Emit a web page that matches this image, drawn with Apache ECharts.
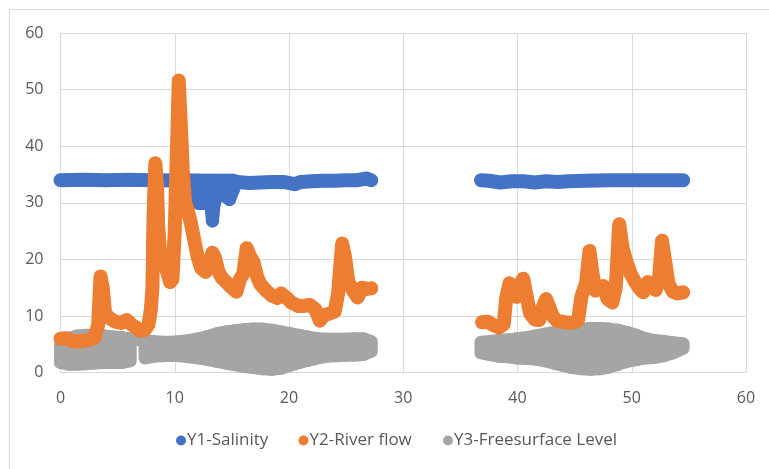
<!DOCTYPE html>
<html>
<head>
<meta charset="utf-8">
<script src="https://cdn.jsdelivr.net/npm/echarts@6/dist/echarts.min.js"></script>
<style>
  html, body { margin: 0; padding: 0; background: #fff; }
  #chart { width: 769px; height: 469px; }
</style>
</head>
<body>
<div id="chart"></div>
<script>
// Y1 - salinity, first record (days 0-27)
const salinityAX = [0, 2, 4, 6, 8, 9, 10, 10.6, 15.4, 16.5, 17.5, 18.5, 19.5, 20.5, 21.0, 22, 23, 24, 25, 26, 26.8, 27.2];
const salinityAY = [34.0, 34.1, 34.0, 34.1, 34.0, 34.0, 33.9, 34.0, 33.7, 33.5, 33.6, 33.7, 33.7, 33.3, 33.7, 33.8, 33.9, 33.9, 34.0, 34.0, 34.3, 34.0];
// salinity drop during the flood, days 10.6-15.4: (day, high, low)
const salinityDipX = [10.6, 11.1, 11.4, 11.7, 12.1, 12.5, 12.9, 13.15, 13.3, 13.45, 13.7, 14.0, 14.4, 14.8, 15.1, 15.4];
const salinityDipHigh = [34.0, 34.0, 34.0, 34.0, 34.0, 34.0, 34.0, 34.0, 34.0, 34.0, 34.0, 34.0, 34.0, 34.0, 34.0, 33.8];
const salinityDipLow = [34.0, 33.2, 31.8, 30.2, 29.9, 29.9, 30.3, 30.0, 26.8, 29.8, 31.3, 32.1, 31.2, 30.6, 32.2, 33.6];
// Y1 - salinity, second record (days 37-55)
const salinityBX = [36.8, 37.5, 38.5, 39.5, 40.5, 41.5, 42.5, 43.5, 44.5, 46, 48, 50, 52, 54.5];
const salinityBY = [34.0, 33.9, 33.6, 33.8, 33.8, 33.6, 33.8, 33.7, 33.8, 33.9, 34.0, 34.0, 34.0, 34.0];

// Y2 - river flow
const flowAX = [0.0, 0.5, 1.0, 1.5, 2.0, 2.5, 3.0, 3.3, 3.5, 3.7, 3.9, 4.3, 4.8, 5.3, 5.8, 6.2, 6.6, 7.0, 7.4, 7.7, 7.9, 8.05, 8.1, 8.15, 8.3, 8.45, 8.55, 8.7, 8.9, 9.1, 9.3, 9.6, 9.8, 10.0, 10.2, 10.35, 10.5, 10.7, 10.9, 11.1, 11.4, 11.7, 12.0, 12.3, 12.7, 13.0, 13.3, 13.5, 13.8, 14.1, 14.6, 15.0, 15.4, 15.7, 16.0, 16.3, 16.6, 16.9, 17.2, 17.5, 18.0, 18.5, 19.0, 19.3, 19.8, 20.2, 20.8, 21.3, 21.8, 22.3, 22.7, 23.1, 23.5, 24.0, 24.3, 24.65, 24.9, 25.2, 25.6, 26.0, 26.4, 26.8, 27.2];
const flowAY = [6.0, 6.1, 5.6, 5.5, 5.6, 5.8, 6.2, 8.5, 17.0, 15.0, 10.5, 9.6, 9.0, 8.8, 9.3, 8.5, 8.0, 7.4, 7.6, 8.5, 11.0, 15.0, 22.5, 28.0, 37.0, 33.0, 26.0, 21.5, 19.5, 20.5, 18.0, 16.0, 16.5, 25.0, 40.0, 51.6, 45.0, 36.0, 30.0, 29.0, 26.5, 23.5, 20.5, 18.5, 17.8, 19.0, 21.2, 20.5, 18.0, 16.8, 15.8, 15.0, 14.3, 16.5, 17.5, 22.0, 20.5, 19.5, 17.0, 15.6, 14.5, 13.6, 13.2, 14.0, 13.2, 12.4, 11.8, 11.8, 12.0, 11.2, 9.2, 10.2, 10.4, 10.8, 14.0, 22.8, 20.5, 16.0, 14.5, 13.3, 15.0, 14.8, 14.9];
const flowBX = [36.9, 37.4, 37.9, 38.4, 38.8, 39.0, 39.3, 39.6, 39.9, 40.2, 40.5, 40.8, 41.1, 41.5, 41.9, 42.2, 42.5, 42.8, 43.1, 43.5, 44.0, 44.5, 45.0, 45.3, 45.6, 46.0, 46.3, 46.6, 46.8, 47.2, 47.5, 47.9, 48.3, 48.6, 48.9, 49.2, 49.5, 49.9, 50.3, 50.7, 51.0, 51.4, 51.7, 52.1, 52.4, 52.65, 52.9, 53.2, 53.6, 54.0, 54.5];
const flowBY = [8.9, 9.0, 8.4, 8.0, 8.6, 13.0, 15.8, 15.0, 13.4, 15.5, 16.6, 13.5, 10.5, 9.4, 9.3, 11.5, 13.0, 11.5, 9.9, 9.1, 9.0, 8.8, 8.9, 9.3, 13.5, 15.8, 21.5, 17.0, 14.5, 15.2, 15.3, 13.0, 12.4, 15.0, 26.2, 22.0, 19.8, 17.5, 16.0, 14.8, 14.2, 16.0, 15.4, 14.6, 17.0, 23.3, 20.0, 15.8, 14.3, 14.0, 14.2];

// Y3 - free surface level: tidal range as (day, high water, low water)
const levelA1X = [0, 0.75, 1.5, 2.25, 3.0, 3.8, 4.6, 5.4, 6.1];
const levelA1High = [4.8, 6.1, 6.5, 6.6, 6.6, 6.5, 6.3, 6.2, 6.0];
const levelA1Low = [1.8, 1.5, 1.5, 1.6, 1.7, 1.8, 1.8, 1.8, 2.1];
// short stretch around day 6.7 where only high water was logged: [day0, level0, day1, level1]
const levelA1Bridge = [6.1, 6.0, 7.4, 5.7];
const levelA2X = [7.4, 8.1, 8.9, 9.7, 10.5, 11.3, 12.1, 12.9, 13.7, 14.5, 15.3, 16.1, 16.9, 17.7, 18.5, 19.3, 20.1, 20.9, 21.7, 22.5, 23.3, 24.1, 24.9, 25.7, 26.5, 27.2];
const levelA2High = [5.7, 5.5, 5.4, 5.4, 5.5, 5.7, 6.0, 6.4, 6.9, 7.2, 7.4, 7.6, 7.7, 7.7, 7.5, 7.2, 6.9, 6.6, 6.3, 6.0, 5.9, 5.9, 5.9, 6.0, 6.0, 5.5];
const levelA2Low = [2.6, 2.9, 3.0, 3.1, 3.0, 2.8, 2.6, 2.3, 2.0, 1.7, 1.4, 1.1, 0.9, 0.7, 0.6, 0.8, 1.3, 1.8, 2.2, 2.6, 2.9, 3.0, 3.1, 3.1, 3.2, 3.8];
const levelBX = [36.8, 37.6, 38.4, 39.2, 40.0, 40.8, 41.6, 42.4, 43.2, 44.0, 44.8, 45.6, 46.4, 47.2, 48.0, 48.8, 49.6, 50.4, 51.2, 52.0, 52.8, 53.6, 54.5];
const levelBHigh = [5.4, 5.5, 5.7, 5.8, 6.0, 6.2, 6.5, 6.8, 7.1, 7.4, 7.6, 7.7, 7.8, 7.8, 7.7, 7.5, 7.1, 6.6, 6.0, 5.7, 5.5, 5.3, 5.1];
const levelBLow = [3.5, 3.2, 2.9, 2.8, 2.6, 2.5, 2.4, 2.1, 1.7, 1.3, 0.9, 0.7, 0.6, 0.7, 1.0, 1.5, 2.0, 2.3, 2.6, 2.7, 3.0, 3.5, 4.3];

const seriesNames = ['Y1-Salinity', 'Y2-River flow', 'Y3-Freesurface Level'];
const colors = ['#4472C4', '#ED7D31', '#A5A5A5'];
const LINE_W = 14;
const BAND_W = 13;

function pairs(xs, ys) {
  return xs.map((x, i) => [x, ys[i]]);
}
// One band piece per pair of neighbouring samples: [x0, high0, low0, x1, high1, low1]
function bandPieces(xs, highs, lows) {
  const out = [];
  for (let i = 1; i < xs.length; i++) {
    out.push([xs[i - 1], highs[i - 1], lows[i - 1], xs[i], highs[i], lows[i]]);
  }
  return out;
}

function trace(name, color, data) {
  return {
    name: name,
    type: 'line',
    data: data,
    showSymbol: false,
    clip: false,
    silent: true,
    itemStyle: { color: color },
    lineStyle: { color: color, width: LINE_W, cap: 'round', join: 'round' }
  };
}

function band(name, color, pieces) {
  return {
    name: name,
    type: 'custom',
    data: pieces,
    silent: true,
    clip: false,
    itemStyle: { color: color },
    encode: { x: [0, 3], y: [1, 2, 4, 5] },
    renderItem: function (params, api) {
      const a = api.coord([api.value(0), api.value(1)]);
      const b = api.coord([api.value(3), api.value(4)]);
      const c = api.coord([api.value(3), api.value(5)]);
      const d = api.coord([api.value(0), api.value(2)]);
      return {
        type: 'polygon',
        shape: { points: [a, b, c, d] },
        style: { fill: color, stroke: color, lineWidth: BAND_W, lineJoin: 'round', lineCap: 'round' }
      };
    }
  };
}

const levelPieces = [].concat(
  bandPieces(levelA1X, levelA1High, levelA1Low),
  [[levelA1Bridge[0], levelA1Bridge[1], levelA1Bridge[1], levelA1Bridge[2], levelA1Bridge[3], levelA1Bridge[3]]],
  bandPieces(levelA2X, levelA2High, levelA2Low),
  bandPieces(levelBX, levelBHigh, levelBLow)
);

const FONT = '"Open Sans", "Noto Sans", sans-serif';
const legendLeft = [171, 293.5, 438];
const chart = echarts.init(document.getElementById('chart'), null, { renderer: 'canvas' });
chart.setOption({
  animation: false,
  backgroundColor: '#ffffff',
  graphic: [{
    type: 'rect',
    shape: { x: 9.5, y: 9.5, width: 800, height: 500 },
    style: { fill: 'none', stroke: '#d9d9d9', lineWidth: 1 },
    silent: true, z: -10
  }],
  grid: { left: 60.5, right: 23, top: 33, bottom: 96.3, containLabel: false },
  legend: seriesNames.map((name, i) => ({
    data: [name],
    icon: 'circle',
    left: legendLeft[i],
    top: 427,
    itemWidth: 10,
    itemHeight: 10,
    textStyle: { color: '#595959', fontSize: 17, fontFamily: FONT, padding: [0, 0, 0, -4] }
  })),
  xAxis: {
    type: 'value', min: 0, max: 60, interval: 10,
    axisLine: { show: false }, axisTick: { show: false },
    axisLabel: { color: '#595959', fontSize: 16, fontFamily: FONT, margin: 18 },
    splitLine: { show: true, lineStyle: { color: '#d9d9d9', width: 1 } }
  },
  yAxis: {
    type: 'value', min: 0, max: 60, interval: 10,
    axisLine: { show: false }, axisTick: { show: false },
    axisLabel: { color: '#595959', fontSize: 16, fontFamily: FONT, margin: 17 },
    splitLine: { show: true, lineStyle: { color: '#d9d9d9', width: 1 } }
  },
  series: [
    trace(seriesNames[0], colors[0], pairs(salinityAX, salinityAY)),
    band(seriesNames[0], colors[0], bandPieces(salinityDipX, salinityDipHigh, salinityDipLow)),
    trace(seriesNames[0], colors[0], pairs(salinityBX, salinityBY)),
    trace(seriesNames[1], colors[1], pairs(flowAX, flowAY)),
    trace(seriesNames[1], colors[1], pairs(flowBX, flowBY)),
    band(seriesNames[2], colors[2], levelPieces)
  ]
});
</script>
</body>
</html>
